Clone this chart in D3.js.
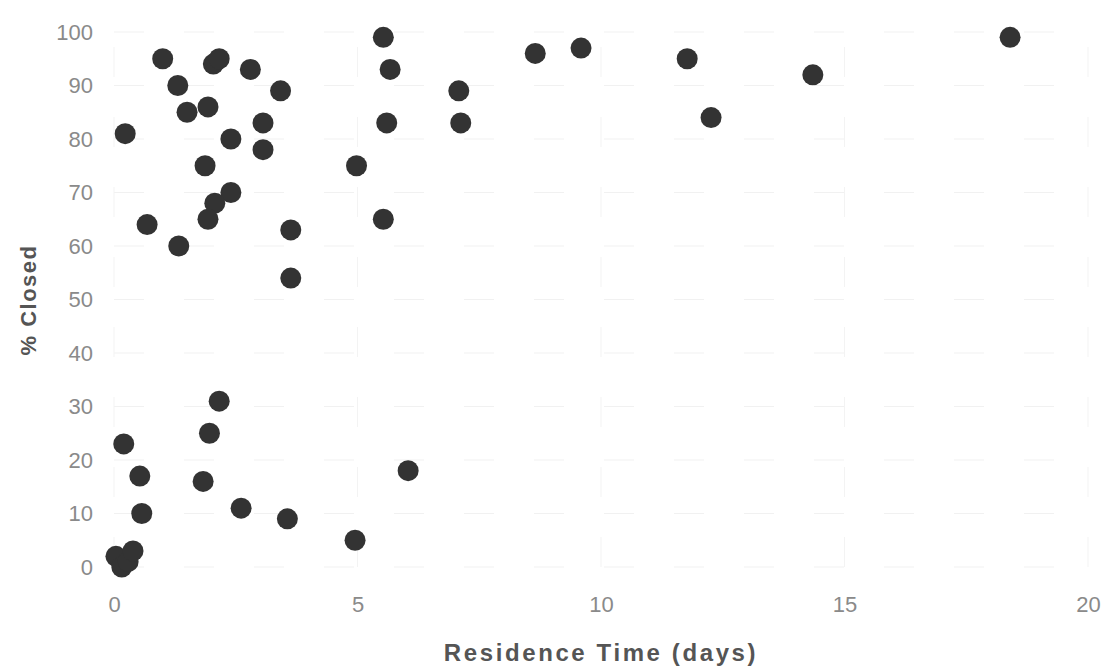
<!DOCTYPE html>
<html>
<head>
<meta charset="utf-8">
<script src="https://cdn.jsdelivr.net/npm/d3@7"></script>
<style>
  body { margin: 0; background: #fff; }
  svg { display: block; }
</style>
</head>
<body>
<svg id="chart" width="1102" height="666"></svg>
<script>
// Residence time (days)
const residenceDays = [
  0.23, 1.0, 1.31, 1.5, 1.93, 2.04, 2.16, 2.8, 3.42, 3.06, 2.4, 3.06, 1.87, 2.4, 2.07, 1.93, 1.33, 0.68, 3.63, 3.63,
  5.53, 5.67, 5.6, 4.98, 5.53, 7.08, 7.12, 8.65, 9.59, 11.77, 12.26, 14.35, 18.4,
  0.2, 0.53, 0.57, 2.16, 1.96, 1.83, 2.61, 3.56, 4.95, 6.04,
  0.04, 0.16, 0.29, 0.39
];
// % Closed
const pctClosed = [
  81, 95, 90, 85, 86, 94, 95, 93, 89, 83, 80, 78, 75, 70, 68, 65, 60, 64, 63, 54,
  99, 93, 83, 75, 65, 89, 83, 96, 97, 95, 84, 92, 99,
  23, 17, 10, 31, 25, 16, 11, 9, 5, 18,
  2, 0, 1, 3
];
const xTicks = [0, 5, 10, 15, 20];
const yTicks = [0, 10, 20, 30, 40, 50, 60, 70, 80, 90, 100];
const xTitle = "Residence Time (days)";
const yTitle = "% Closed";

const svg = d3.select("#chart");
const x = d3.scaleLinear().domain([0, 20]).range([114, 1088]);
const y = d3.scaleLinear().domain([0, 100]).range([567, 32]);
const FONT = "'Liberation Sans', Arial, Helvetica, sans-serif";

// faint grid
const grid = svg.append("g");
grid.selectAll("line.h").data(yTicks).join("line")
  .attr("x1", x(0)).attr("x2", x(20))
  .attr("y1", d => y(d)).attr("y2", d => y(d))
  .attr("stroke", "#f1f1f1").attr("stroke-width", 1)
  .attr("stroke-dasharray", "30,40");
grid.selectAll("line.v").data(xTicks).join("line")
  .attr("x1", d => x(d)).attr("x2", d => x(d))
  .attr("y1", y(0)).attr("y2", y(100))
  .attr("stroke", "#f3f3f3").attr("stroke-width", 1)
  .attr("stroke-dasharray", "30,40");

// axes (labels only)
const xAxis = svg.append("g").attr("transform", "translate(0,612)")
  .call(d3.axisBottom(x).tickValues(xTicks).tickSize(0).tickPadding(0));
xAxis.selectAll("text").attr("y", 0).attr("dy", 0);
const yAxis = svg.append("g").attr("transform", "translate(93,0)")
  .call(d3.axisLeft(y).tickValues(yTicks).tickSize(0).tickPadding(0));
[xAxis, yAxis].forEach(a => {
  a.select(".domain").remove();
  a.selectAll("text").attr("fill", "#8a8a8a")
    .style("font-family", FONT)
    .style("font-size", "22px");
});

// points
svg.append("g").selectAll("circle")
  .data(residenceDays.map((d, i) => [d, pctClosed[i]]))
  .join("circle")
  .attr("cx", d => x(d[0]))
  .attr("cy", d => y(d[1]))
  .attr("r", 10.5)
  .attr("fill", "#333333");

// titles
svg.append("text")
  .attr("x", 601).attr("y", 661)
  .attr("text-anchor", "middle")
  .attr("fill", "#555")
  .style("font-family", FONT)
  .style("font-size", "24px").style("font-weight", "bold")
  .style("letter-spacing", "2.6px")
  .text(xTitle);
svg.append("text")
  .attr("transform", "translate(36,300) rotate(-90)")
  .attr("text-anchor", "middle")
  .attr("fill", "#555")
  .style("font-family", FONT)
  .style("font-size", "22px").style("font-weight", "bold")
  .style("letter-spacing", "1.5px")
  .text(yTitle);
</script>
</body>
</html>
